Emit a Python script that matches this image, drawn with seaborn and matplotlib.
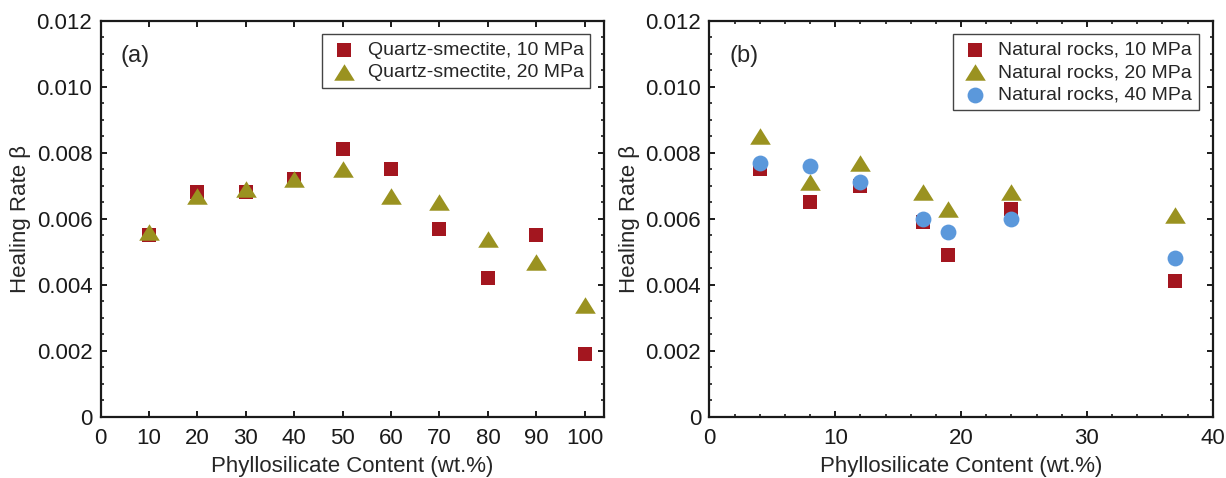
import matplotlib
matplotlib.use("Agg")
import matplotlib.pyplot as plt
from matplotlib.ticker import MultipleLocator, FixedLocator, FixedFormatter
import seaborn as sns
import pandas as pd

# ---------------- data ----------------
qs_content = [10, 20, 30, 40, 50, 60, 70, 80, 90, 100]
qs_10mpa = [0.0055, 0.0068, 0.0068, 0.0072, 0.0081, 0.0075, 0.0057, 0.0042, 0.0055, 0.0019]
qs_20mpa = [0.0056, 0.0067, 0.0069, 0.0072, 0.0075, 0.0067, 0.0065, 0.0054, 0.0047, 0.0034]

nr_content = [4, 8, 12, 17, 19, 24, 37]
nr_10mpa = [0.0075, 0.0065, 0.0070, 0.0059, 0.0049, 0.0063, 0.0041]
nr_20mpa = [0.0085, 0.0071, 0.0077, 0.0068, 0.0063, 0.0068, 0.0061]
nr_40mpa = [0.0077, 0.0076, 0.0071, 0.0060, 0.0056, 0.0060, 0.0048]

labels_a = ["Quartz-smectite, 10 MPa", "Quartz-smectite, 20 MPa"]
labels_b = ["Natural rocks, 10 MPa", "Natural rocks, 20 MPa", "Natural rocks, 40 MPa"]

y_ticks = [0, 0.002, 0.004, 0.006, 0.008, 0.010, 0.012]
y_ticklabels = ["0", "0.002", "0.004", "0.006", "0.008", "0.010", "0.012"]
xa_ticks = [0, 10, 20, 30, 40, 50, 60, 70, 80, 90, 100]
xb_ticks = [0, 10, 20, 30, 40]

# ---------------- style ----------------
sns.set_theme(style="ticks")
plt.rcParams["font.family"] = ["Liberation Sans", "DejaVu Sans"]
plt.rcParams["axes.linewidth"] = 1.6
plt.rcParams["axes.edgecolor"] = "#1a1a1a"

RED = "#A3161F"
OLIVE = "#9A9220"
BLUE = "#5B98DB"
TRI = [(-1.0, -0.8), (1.0, -0.8), (0.0, 0.8), (-1.0, -0.8)]

fig = plt.figure(figsize=(12.26, 4.78), dpi=100)
ax_a = fig.add_axes([0.0821, 0.1282, 0.4106, 0.8285])
ax_b = fig.add_axes([0.5786, 0.1282, 0.4106, 0.8285])

df_a = pd.DataFrame({"x": qs_content, "y10": qs_10mpa, "y20": qs_20mpa})
df_b = pd.DataFrame({"x": nr_content, "y10": nr_10mpa, "y20": nr_20mpa, "y40": nr_40mpa})

sns.scatterplot(data=df_a, x="x", y="y10", ax=ax_a, marker="s", s=100, color=RED,
                linewidth=0, label=labels_a[0], zorder=3)
sns.scatterplot(data=df_a, x="x", y="y20", ax=ax_a, marker=TRI, s=220, color=OLIVE,
                linewidth=0, label=labels_a[1], zorder=4)

sns.scatterplot(data=df_b, x="x", y="y10", ax=ax_b, marker="s", s=100, color=RED,
                linewidth=0, label=labels_b[0], zorder=3)
sns.scatterplot(data=df_b, x="x", y="y20", ax=ax_b, marker=TRI, s=220, color=OLIVE,
                linewidth=0, label=labels_b[1], zorder=4)
sns.scatterplot(data=df_b, x="x", y="y40", ax=ax_b, marker="o", s=130, color=BLUE,
                linewidth=0, label=labels_b[2], zorder=5)

for ax, xt, xlim, tag in [(ax_a, xa_ticks, (0, 104), "(a)"), (ax_b, xb_ticks, (0, 40), "(b)")]:
    ax.set_xlim(*xlim)
    ax.set_ylim(0, 0.012)
    ax.xaxis.set_major_locator(FixedLocator(xt))
    ax.yaxis.set_major_locator(FixedLocator(y_ticks))
    ax.yaxis.set_major_formatter(FixedFormatter(y_ticklabels))
    ax.yaxis.set_minor_locator(MultipleLocator(0.0005))
    ax.tick_params(which="both", direction="in", top=True, right=True,
                   labelsize=16, colors="#1a1a1a", pad=6)
    ax.tick_params(axis="x", which="both", pad=8)
    ax.tick_params(which="major", length=4, width=1.4)
    ax.tick_params(which="minor", length=2.2, width=1.2)
    ax.set_xlabel("Phyllosilicate Content (wt.%)", fontsize=16, labelpad=5)
    ax.set_ylabel("Healing Rate β", fontsize=16, labelpad=4)
    ax.text(0.04, 0.91, tag, transform=ax.transAxes, fontsize=17, va="center", ha="left")
    leg = ax.legend(loc="upper right", fontsize=14, frameon=True, fancybox=False,
                    edgecolor="#444444", framealpha=1, borderpad=0.35,
                    handletextpad=0.4, labelspacing=0.25, borderaxespad=0.7,
                    handlelength=1.6)
    leg.get_frame().set_linewidth(1.0)

ax_b.xaxis.set_minor_locator(MultipleLocator(2))

fig.savefig("out.png", dpi=100)
